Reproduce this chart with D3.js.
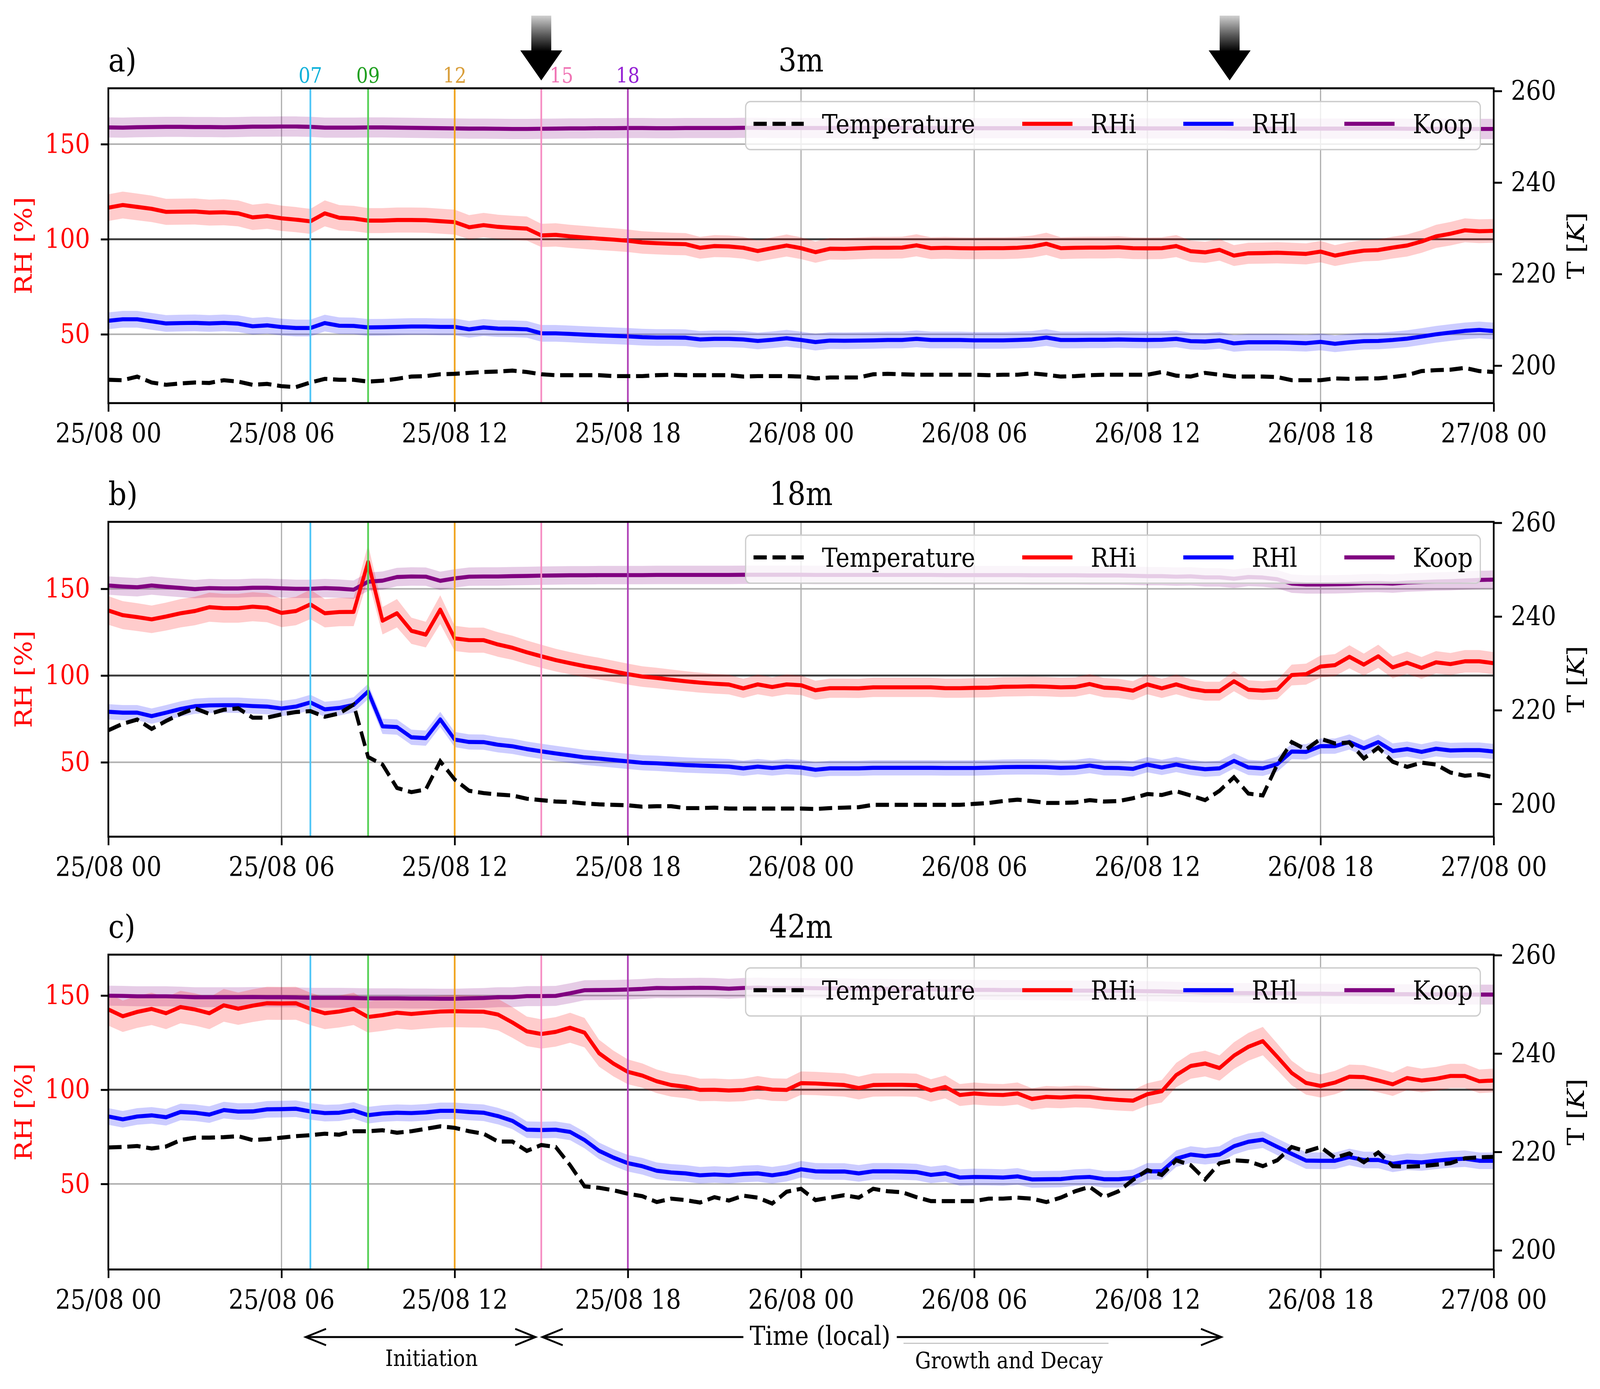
<!DOCTYPE html>
<html>
<head>
<meta charset="utf-8">
<script src="https://cdn.jsdelivr.net/npm/d3@7"></script>
<style>
html, body { margin: 0; padding: 0; background: #ffffff; overflow: hidden; }
svg { display: block; width: 100vw; height: 100vh; }
</style>
</head>
<body>
<svg></svg>
<script>
const width = 4652;
const height = 3556;

const fontFamily = "'DejaVu Serif', serif";

// half-hourly samples from 25/08 00 to 27/08 00
const startTime = Date.UTC(2021, 7, 25, 0, 0);
const sampleCount = 97;
const stepMinutes = 30;

// ---- 3 m ----
const rhi3m = [
    116.6, 118.0, 117.0, 116.0, 114.4, 114.5, 114.6, 114.0, 114.2, 113.6, 111.5, 112.2,
    111.0, 110.3, 109.4, 113.6, 111.3, 110.9, 109.8, 109.8, 110.1, 110.1, 110.0, 109.5,
    109.0, 106.3, 107.4, 106.5, 106.0, 105.6, 102.0, 102.3, 101.5, 100.9, 100.3, 99.8,
    99.2, 98.3, 97.9, 97.6, 97.4, 95.5, 96.4, 96.2, 95.5, 93.8, 95.3, 96.7,
    95.3, 93.2, 95.0, 94.9, 95.2, 95.5, 95.5, 95.6, 96.8, 95.3, 95.5, 95.3,
    95.2, 95.3, 95.3, 95.5, 96.1, 97.6, 95.3, 95.5, 95.6, 95.6, 95.8, 95.3,
    95.2, 95.3, 96.4, 93.7, 93.1, 94.4, 91.4, 92.6, 92.7, 92.9, 92.6, 92.3,
    93.5, 91.4, 92.9, 94.0, 94.3, 95.6, 96.7, 98.8, 101.5, 102.9, 104.7, 104.2,
    104.4
];
const rhl3m = [
    57.1, 57.9, 57.9, 56.8, 55.7, 55.9, 56.0, 55.7, 56.0, 55.6, 54.2, 54.7,
    53.8, 53.3, 53.3, 55.9, 54.5, 54.4, 53.6, 53.7, 53.9, 54.1, 54.1, 53.9,
    53.9, 52.6, 53.6, 53.0, 52.9, 52.6, 50.5, 50.5, 50.2, 49.8, 49.5, 49.2,
    48.9, 48.5, 48.3, 48.3, 48.2, 47.3, 47.6, 47.6, 47.3, 46.5, 47.1, 47.9,
    47.0, 45.9, 46.7, 46.6, 46.7, 46.8, 47.0, 47.0, 47.6, 47.0, 47.0, 47.0,
    46.8, 46.8, 46.8, 47.0, 47.3, 48.3, 47.0, 47.0, 47.1, 47.1, 47.3, 47.1,
    47.0, 47.1, 47.6, 46.4, 46.2, 46.8, 45.2, 45.8, 45.8, 45.8, 45.6, 45.3,
    46.0, 45.0, 45.8, 46.4, 46.5, 47.0, 47.7, 48.8, 50.0, 50.9, 51.8, 52.3,
    51.7
];
const koop3m = [
    158.8, 158.7, 158.9, 159.0, 159.1, 159.1, 159.0, 159.0, 158.9, 159.0, 159.2, 159.2,
    159.3, 159.3, 159.1, 158.7, 158.7, 158.7, 158.8, 158.8, 158.7, 158.6, 158.5, 158.4,
    158.3, 158.2, 158.2, 158.1, 158.0, 158.0, 158.1, 158.2, 158.3, 158.3, 158.4, 158.4,
    158.5, 158.5, 158.4, 158.4, 158.5, 158.5, 158.5, 158.5, 158.6, 158.6, 158.5, 158.5,
    158.5, 158.5, 158.5, 158.5, 158.5, 158.5, 158.5, 158.5, 158.5, 158.5, 158.5, 158.5,
    158.4, 158.4, 158.4, 158.4, 158.4, 158.4, 158.4, 158.4, 158.4, 158.4, 158.4, 158.4,
    158.3, 158.3, 158.3, 158.3, 158.3, 158.3, 158.2, 158.2, 158.2, 158.2, 158.2, 158.2,
    158.2, 158.2, 158.2, 158.2, 158.2, 158.2, 158.1, 158.1, 158.1, 158.1, 158.0, 158.0,
    158.0
];
const temp3m = [
    196.9, 196.8, 197.6, 196.3, 195.8, 196.1, 196.3, 196.2, 196.8, 196.5, 195.8, 196.0,
    195.5, 195.3, 196.3, 197.1, 196.9, 196.9, 196.5, 196.7, 197.1, 197.6, 197.7, 198.1,
    198.2, 198.4, 198.6, 198.7, 198.9, 198.6, 198.1, 197.9, 197.9, 197.9, 197.9, 197.7,
    197.7, 197.7, 197.9, 198.0, 197.9, 197.9, 197.9, 197.9, 197.6, 197.7, 197.7, 197.7,
    197.6, 197.2, 197.4, 197.4, 197.4, 198.1, 198.2, 198.1, 198.0, 198.0, 198.0, 198.0,
    198.0, 197.9, 198.0, 198.0, 198.3, 198.0, 197.6, 197.7, 197.9, 198.0, 198.0, 198.0,
    198.0, 198.6, 197.8, 197.6, 198.4, 198.0, 197.6, 197.6, 197.6, 197.5, 196.8, 196.8,
    196.8, 197.2, 197.1, 197.2, 197.2, 197.5, 197.9, 198.8, 199.0, 199.1, 199.5, 198.8,
    198.6
];

// ---- 18 m ----
const rhi18m = [
    137.5, 134.8, 133.7, 132.4, 134.0, 135.9, 137.2, 139.4, 138.8, 138.8, 139.7, 139.1,
    136.1, 137.2, 141.0, 135.9, 136.6, 136.7, 165.5, 131.6, 135.9, 125.8, 123.6, 138.0,
    121.4, 120.4, 120.4, 117.9, 116.0, 113.4, 111.1, 108.9, 107.1, 105.4, 104.0, 102.4,
    100.8, 99.4, 98.6, 97.6, 96.7, 95.9, 95.3, 94.8, 92.6, 94.9, 93.4, 94.9,
    94.4, 91.5, 92.7, 92.7, 92.6, 93.2, 93.2, 93.2, 93.2, 93.2, 92.7, 92.7,
    92.9, 93.0, 93.5, 93.6, 93.8, 93.6, 93.2, 93.4, 95.1, 93.0, 92.6, 91.3,
    94.9, 92.6, 94.9, 92.4, 91.0, 91.0, 96.7, 91.8, 91.3, 91.9, 100.3, 100.8,
    105.2, 106.0, 110.8, 106.3, 111.1, 104.7, 107.4, 104.4, 107.6, 106.6, 108.2, 108.2,
    107.1
];
const rhl18m = [
    79.1, 78.6, 78.6, 76.6, 78.6, 80.7, 82.3, 82.8, 82.9, 82.9, 82.4, 82.1,
    81.0, 82.1, 84.5, 80.5, 81.3, 83.1, 90.8, 70.7, 70.3, 64.4, 63.9, 74.7,
    63.1, 61.7, 61.6, 60.1, 59.2, 57.6, 56.3, 55.1, 54.0, 52.8, 52.1, 51.3,
    50.5, 49.7, 49.4, 48.9, 48.4, 48.1, 47.8, 47.5, 46.5, 47.5, 46.7, 47.5,
    47.0, 45.7, 46.5, 46.5, 46.5, 46.8, 46.8, 46.8, 46.8, 46.8, 46.7, 46.7,
    46.7, 46.9, 47.2, 47.3, 47.3, 47.2, 46.8, 47.0, 48.1, 46.8, 46.7, 46.2,
    48.6, 47.0, 48.7, 47.0, 46.0, 46.5, 50.8, 47.0, 46.5, 48.9, 56.2, 56.0,
    59.3, 59.3, 61.7, 58.1, 61.6, 56.5, 57.6, 56.0, 57.8, 56.8, 57.0, 57.0,
    56.2
];
const koop18m = [
    151.9, 151.3, 150.9, 151.9, 151.1, 150.5, 149.8, 150.4, 150.2, 150.2, 150.6, 150.6,
    150.3, 150.0, 150.0, 150.4, 150.1, 149.5, 154.1, 154.7, 156.8, 157.1, 157.0, 154.6,
    156.0, 157.0, 157.1, 157.1, 157.3, 157.4, 157.6, 157.7, 157.8, 157.8, 157.9, 157.9,
    157.9, 157.9, 158.0, 158.0, 158.0, 158.0, 158.0, 158.0, 158.1, 158.1, 158.1, 158.1,
    158.1, 158.0, 158.0, 158.0, 158.0, 158.0, 158.0, 158.0, 158.0, 158.0, 157.9, 157.9,
    157.9, 157.9, 157.9, 157.9, 157.8, 157.8, 157.8, 157.8, 157.7, 157.7, 157.7, 157.5,
    157.3, 157.3, 157.0, 157.2, 156.6, 156.6, 155.8, 156.8, 156.5, 155.5, 153.0, 152.5,
    152.5, 152.6, 152.8, 153.2, 153.3, 153.0, 153.6, 153.9, 154.2, 154.4, 154.8, 155.1,
    155.3
];
const temp18m = [
    215.7, 217.1, 218.0, 216.0, 217.7, 219.2, 220.4, 219.2, 220.1, 220.4, 218.4, 218.4,
    219.1, 219.6, 219.8, 218.6, 219.3, 221.2, 210.0, 208.4, 203.4, 202.5, 203.1, 209.1,
    205.2, 202.8, 202.3, 202.0, 201.8, 201.1, 200.8, 200.5, 200.4, 200.1, 199.9, 199.8,
    199.7, 199.4, 199.5, 199.5, 199.1, 199.1, 199.2, 199.0, 199.0, 199.0, 199.0, 199.0,
    199.0, 198.9, 199.1, 199.2, 199.3, 199.8, 199.8, 199.8, 199.8, 199.8, 199.8, 199.8,
    200.0, 200.2, 200.6, 200.9, 200.6, 200.2, 200.2, 200.3, 200.8, 200.5, 200.6, 201.2,
    202.1, 201.9, 202.7, 201.8, 200.8, 202.8, 205.7, 202.2, 201.8, 208.4, 213.2, 211.6,
    213.9, 212.9, 213.1, 209.7, 212.0, 209.0, 207.9, 208.8, 208.4, 206.7, 206.0, 206.3,
    205.7
];

// ---- 42 m ----
const rhi42m = [
    142.6, 139.0, 141.3, 142.9, 140.6, 143.9, 142.6, 140.6, 144.8, 143.0, 144.6, 145.9,
    145.8, 145.9, 142.9, 140.6, 141.5, 142.9, 138.6, 139.6, 140.9, 140.2, 140.9, 141.5,
    141.7, 141.5, 141.4, 139.9, 135.7, 131.0, 129.6, 130.7, 132.9, 130.3, 119.4, 113.9,
    109.5, 107.5, 104.5, 102.5, 101.6, 99.9, 100.0, 99.6, 99.9, 101.2, 100.1, 99.9,
    103.5, 103.3, 102.9, 102.5, 100.9, 102.5, 102.6, 102.6, 102.4, 99.6, 101.5, 97.2,
    98.0, 97.4, 97.2, 98.0, 95.1, 96.2, 95.9, 96.4, 96.2, 95.2, 94.6, 94.2,
    97.6, 99.2, 107.8, 112.6, 113.9, 111.5, 118.1, 122.8, 125.8, 117.5, 108.9, 103.6,
    102.0, 103.8, 106.9, 106.7, 104.9, 102.9, 106.2, 104.9, 105.8, 107.3, 107.3, 104.5,
    104.9
];
const rhl42m = [
    85.8, 84.3, 85.8, 86.4, 85.4, 88.2, 87.8, 86.8, 89.2, 88.4, 88.5, 89.6,
    89.7, 89.9, 88.5, 87.6, 87.8, 89.0, 86.5, 87.4, 87.8, 87.6, 88.0, 88.8,
    88.8, 88.2, 87.8, 86.0, 83.5, 78.8, 78.6, 78.8, 77.6, 73.3, 67.6, 64.0,
    61.0, 59.4, 57.0, 56.1, 55.6, 54.6, 55.0, 54.6, 55.3, 55.6, 54.6, 55.7,
    57.8, 56.7, 56.6, 56.6, 55.6, 56.7, 56.7, 56.6, 56.3, 54.8, 55.6, 53.4,
    53.7, 53.6, 53.4, 54.0, 52.4, 52.5, 52.6, 53.4, 53.7, 52.5, 52.5, 53.2,
    56.7, 56.7, 63.4, 65.6, 64.7, 65.6, 70.0, 72.4, 73.5, 69.7, 66.0, 62.4,
    62.3, 62.3, 64.3, 62.7, 62.7, 60.7, 61.8, 61.4, 62.3, 63.0, 63.4, 62.3,
    62.3
];
const koop42m = [
    149.9, 149.8, 149.6, 149.6, 149.6, 149.4, 149.1, 149.1, 149.1, 149.1, 149.2, 149.1,
    149.1, 149.0, 148.8, 148.8, 148.8, 148.7, 148.5, 148.5, 148.5, 148.4, 148.4, 148.3,
    148.3, 148.5, 148.7, 149.1, 149.1, 149.7, 149.7, 149.8, 151.2, 152.8, 152.9, 153.0,
    153.2, 153.5, 154.0, 153.9, 154.0, 154.1, 154.0, 153.6, 154.0, 154.2, 154.0, 154.0,
    154.0, 153.9, 153.8, 153.8, 153.6, 153.6, 153.5, 153.4, 153.3, 153.3, 153.2, 153.1,
    153.0, 153.0, 152.9, 152.9, 152.8, 152.8, 152.7, 152.6, 152.6, 152.5, 152.5, 152.4,
    152.3, 152.2, 152.0, 151.8, 151.5, 151.5, 151.3, 151.3, 151.2, 151.2, 151.1, 151.0,
    151.0, 150.9, 150.9, 150.8, 150.8, 150.7, 150.7, 150.6, 150.6, 150.6, 150.5, 150.5,
    150.5
];
const temp42m = [
    220.9, 221.0, 221.2, 220.7, 221.1, 222.4, 222.9, 222.9, 223.0, 223.2, 222.4, 222.6,
    222.9, 223.2, 223.4, 223.7, 223.5, 224.2, 224.2, 224.4, 223.9, 224.2, 224.7, 225.2,
    224.9, 224.2, 223.7, 222.1, 222.1, 220.2, 221.4, 221.0, 217.3, 213.0, 212.7, 212.2,
    211.5, 211.0, 209.8, 210.5, 210.2, 209.7, 210.8, 210.1, 211.1, 210.7, 209.5, 211.9,
    212.5, 210.2, 210.7, 211.2, 210.7, 212.5, 212.0, 211.8, 210.8, 210.0, 210.0, 210.0,
    210.0, 210.5, 210.5, 210.7, 210.5, 209.8, 210.7, 212.0, 212.9, 210.8, 212.0, 214.3,
    216.3, 215.3, 218.3, 217.3, 214.4, 217.7, 218.3, 218.1, 217.1, 218.3, 221.0, 220.1,
    221.0, 218.8, 219.7, 217.9, 219.9, 217.1, 217.0, 217.1, 217.4, 217.7, 218.7, 218.9,
    219.0
];

// uncertainty shading
const rhiRelErr = 0.06;
const rhlErr = 4.4;
const koopErr = 5.3;

// marked hours on 25/08
const markerHours = [7, 9, 12, 15, 18];
const markerLabels = ["07", "09", "12", "15", "18"];
const markerLabelHours = [7, 9, 12, 15.7, 18];
const markerLineColors = ["#4ec5f7", "#52cf52", "#f0a41f", "#f68fc4", "#b043b8"];
const markerTextColors = ["#0fb1da", "#1f9f1f", "#d99e3a", "#f075b5", "#9420d4"];

// big arrows above panel a (hours since 25/08 00)
const topArrowHours = [15, 38.85];

// phase annotations below panel c
const phaseNames = ["Initiation", "Growth and Decay"];
const phaseSpans = [[6.84, 14.8], [15.04, 38.56]];
const phaseLabelHours = [11.2, 31.2];

const legendNames = ["Temperature", "RHi", "RHl", "Koop"];

const times = d3.range(sampleCount).map(i => new Date(startTime + i * stepMinutes * 60000));
const hourToDate = h => new Date(startTime + h * 3600000);

const panels = [
    { tag: "a)", title: "3m", top: 226, rhi: rhi3m, rhl: rhl3m, koop: koop3m, temp: temp3m,
      rhDomain: [13.8, 179.4], tDomain: [191.8, 260.6] },
    { tag: "b)", title: "18m", top: 1336, rhi: rhi18m, rhl: rhl18m, koop: koop18m, temp: temp18m,
      rhDomain: [7.1, 188.6], tDomain: [193.0, 260.2] },
    { tag: "c)", title: "42m", top: 2444, rhi: rhi42m, rhl: rhl42m, koop: koop42m, temp: temp42m,
      rhDomain: [4.6, 171.7], tDomain: [196.1, 260.1] }
];

const plotLeft = 315;
const plotRight = 4343;
const panelHeight = 806;

const lineWidth = 10.4;
const tickFont = 69;
const legendFont = 68;
const titleFont = 83;

const svg = d3.select("svg")
    .attr("viewBox", [0, 0, width, height])
    .attr("preserveAspectRatio", "none")
    .style("font-family", fontFamily);

svg.append("rect")
    .attr("width", width)
    .attr("height", height)
    .attr("fill", "#ffffff");

const defs = svg.append("defs");

const arrowGradient = defs.append("linearGradient")
    .attr("id", "arrow-gradient")
    .attr("x1", 0).attr("y1", 0)
    .attr("x2", 0).attr("y2", 1);
arrowGradient.append("stop").attr("offset", "0%").attr("stop-color", "#d0d0d0");
arrowGradient.append("stop").attr("offset", "30%").attr("stop-color", "#5a5a5a");
arrowGradient.append("stop").attr("offset", "55%").attr("stop-color", "#000000");
arrowGradient.append("stop").attr("offset", "100%").attr("stop-color", "#000000");

const x = d3.scaleUtc()
    .domain([times[0], times[times.length - 1]])
    .range([plotLeft, plotRight]);

const xTicks = x.ticks(d3.utcHour.every(6));

panels.forEach((p, i) => {
    const top = p.top;
    const bottom = top + panelHeight;
    const y = d3.scaleLinear().domain(p.rhDomain).range([bottom, top]);
    const yT = d3.scaleLinear().domain(p.tDomain).range([bottom, top]);

    const clipId = `clip-${i}`;
    defs.append("clipPath")
        .attr("id", clipId)
        .append("rect")
        .attr("x", plotLeft)
        .attr("y", top)
        .attr("width", plotRight - plotLeft)
        .attr("height", panelHeight);

    const g = svg.append("g");

    // grid
    g.append("g")
        .selectAll("line")
        .data(xTicks)
        .join("line")
        .attr("x1", d => x(d)).attr("x2", d => x(d))
        .attr("y1", top).attr("y2", bottom)
        .attr("stroke", "#b0b0b0")
        .attr("stroke-width", 3.6);
    g.append("g")
        .selectAll("line")
        .data([50, 150])
        .join("line")
        .attr("x1", plotLeft).attr("x2", plotRight)
        .attr("y1", d => y(d)).attr("y2", d => y(d))
        .attr("stroke", "#b0b0b0")
        .attr("stroke-width", 4);
    g.append("line")
        .attr("x1", plotLeft).attr("x2", plotRight)
        .attr("y1", y(100)).attr("y2", y(100))
        .attr("stroke", "#404040")
        .attr("stroke-width", 5);

    const plot = g.append("g").attr("clip-path", `url(#${clipId})`);

    const series = [
        { values: p.koop, color: "#800080", err: v => koopErr },
        { values: p.rhl, color: "#0000ff", err: v => rhlErr },
        { values: p.rhi, color: "#ff0000", err: v => v * rhiRelErr }
    ];

    series.forEach(s => {
        const area = d3.area()
            .x((d, k) => x(times[k]))
            .y0(d => y(d - s.err(d)))
            .y1(d => y(d + s.err(d)));
        plot.append("path")
            .attr("d", area(s.values))
            .attr("fill", s.color)
            .attr("fill-opacity", 0.2)
            .attr("stroke", "none");
    });

    series.forEach(s => {
        const line = d3.line()
            .x((d, k) => x(times[k]))
            .y(d => y(d));
        plot.append("path")
            .attr("d", line(s.values))
            .attr("fill", "none")
            .attr("stroke", s.color)
            .attr("stroke-width", lineWidth)
            .attr("stroke-linejoin", "round");
    });

    // marked hours
    plot.append("g")
        .selectAll("line")
        .data(markerHours)
        .join("line")
        .attr("x1", d => x(hourToDate(d))).attr("x2", d => x(hourToDate(d)))
        .attr("y1", top).attr("y2", bottom)
        .attr("stroke", (d, k) => markerLineColors[k])
        .attr("stroke-width", 5);

    // temperature on twin axis
    const tempLine = d3.line()
        .x((d, k) => x(times[k]))
        .y(d => yT(d));
    plot.append("path")
        .attr("d", tempLine(p.temp))
        .attr("fill", "none")
        .attr("stroke", "#000000")
        .attr("stroke-width", lineWidth)
        .attr("stroke-dasharray", "38.5,16.7");

    // legend
    const legend = g.append("g");
    const entries = legend.append("g");
    let cursor = 23;
    legendNames.forEach((name, k) => {
        const handle = entries.append("line")
            .attr("x1", cursor).attr("x2", cursor + 146)
            .attr("y1", 57).attr("y2", 57)
            .attr("stroke-width", lineWidth);
        if (k === 0) {
            handle.attr("stroke", "#000000").attr("stroke-dasharray", "38.5,16.7");
        } else {
            handle.attr("stroke", ["#ff0000", "#0000ff", "#800080"][k - 1]);
        }
        const label = entries.append("text")
            .attr("x", cursor + 199)
            .attr("y", 81)
            .attr("font-size", legendFont)
            .attr("fill", "#000000")
            .text(name);
        cursor += 199 + label.node().getComputedTextLength() + 137;
    });
    const legendWidth = cursor - 137 + 22;
    legend.insert("rect", ":first-child")
        .attr("x", 0).attr("y", 0)
        .attr("width", legendWidth)
        .attr("height", 123)
        .attr("rx", 14)
        .attr("fill", "#ffffff")
        .attr("fill-opacity", 0.8)
        .attr("stroke", "#cccccc")
        .attr("stroke-width", 3.5);
    legend.attr("transform", `translate(${plotRight - 39 - legendWidth}, ${top + 34})`);

    // frame
    g.append("rect")
        .attr("x", plotLeft).attr("y", top)
        .attr("width", plotRight - plotLeft)
        .attr("height", panelHeight)
        .attr("fill", "none")
        .attr("stroke", "#000000")
        .attr("stroke-width", 5);

    // axes
    const xAxis = g.append("g")
        .attr("transform", `translate(0, ${bottom})`)
        .call(d3.axisBottom(x)
            .ticks(d3.utcHour.every(6))
            .tickFormat(d3.utcFormat("%d/%m %H"))
            .tickSize(22)
            .tickPadding(30)
            .tickSizeOuter(0));
    const leftAxis = g.append("g")
        .attr("transform", `translate(${plotLeft}, 0)`)
        .call(d3.axisLeft(y)
            .tickValues([50, 100, 150])
            .tickSize(22)
            .tickPadding(31)
            .tickSizeOuter(0));
    const rightAxis = g.append("g")
        .attr("transform", `translate(${plotRight}, 0)`)
        .call(d3.axisRight(yT)
            .tickValues([200, 220, 240, 260])
            .tickSize(24)
            .tickPadding(26)
            .tickSizeOuter(0));
    [xAxis, leftAxis, rightAxis].forEach(a => {
        a.select(".domain").remove();
        a.selectAll(".tick line").attr("stroke", "#000000").attr("stroke-width", 5);
        a.selectAll(".tick text")
            .attr("font-family", fontFamily)
            .attr("font-size", tickFont)
            .attr("fill", "#000000");
    });
    leftAxis.selectAll(".tick text").attr("fill", "#ff0000");

    // axis labels
    g.append("text")
        .attr("transform", `translate(69, ${(top + bottom) / 2}) rotate(-90)`)
        .attr("text-anchor", "middle")
        .attr("dominant-baseline", "central")
        .attr("font-size", legendFont)
        .attr("fill", "#ff0000")
        .text("RH [%]");
    const tLabel = g.append("text")
        .attr("transform", `translate(4582, ${(top + bottom) / 2}) rotate(-90)`)
        .attr("text-anchor", "middle")
        .attr("dominant-baseline", "central")
        .attr("font-size", legendFont)
        .attr("fill", "#000000");
    tLabel.append("tspan").text("T [");
    tLabel.append("tspan").attr("font-style", "italic").text("K");
    tLabel.append("tspan").text("]");

    // titles
    g.append("text")
        .attr("x", plotLeft)
        .attr("y", top - 43)
        .attr("font-size", titleFont)
        .text(p.tag);
    g.append("text")
        .attr("x", (plotLeft + plotRight) / 2)
        .attr("y", top - 43)
        .attr("text-anchor", "middle")
        .attr("font-size", titleFont)
        .text(p.title);

    if (i === 0) {
        g.append("g")
            .selectAll("text")
            .data(markerLabels)
            .join("text")
            .attr("x", (d, k) => x(hourToDate(markerLabelHours[k])))
            .attr("y", top - 14)
            .attr("text-anchor", "middle")
            .attr("font-size", 54)
            .attr("fill", (d, k) => markerTextColors[k])
            .text(d => d);
    }
});

// big arrows over panel a
svg.append("g")
    .selectAll("path")
    .data(topArrowHours)
    .join("path")
    .attr("d", d => {
        const cx = x(hourToDate(d));
        return `M ${cx - 29} 40 L ${cx + 29} 40 L ${cx + 29} 129 L ${cx + 61} 129
            L ${cx} 206 L ${cx - 61} 129 L ${cx - 29} 129 Z`;
    })
    .attr("fill", "url(#arrow-gradient)")
    .attr("stroke", "none");

// phase arrows below panel c
const phaseY = 3423;
const phaseGroup = svg.append("g");
phaseSpans.forEach(span => {
    const x1 = x(hourToDate(span[0]));
    const x2 = x(hourToDate(span[1]));
    phaseGroup.append("line")
        .attr("x1", x1 + 3).attr("x2", x2 - 3)
        .attr("y1", phaseY).attr("y2", phaseY)
        .attr("stroke", "#000000")
        .attr("stroke-width", 5);
    phaseGroup.append("path")
        .attr("d", `M ${x1 + 59} ${phaseY - 21} L ${x1} ${phaseY} L ${x1 + 59} ${phaseY + 21}`)
        .attr("fill", "none")
        .attr("stroke", "#000000")
        .attr("stroke-width", 5);
    phaseGroup.append("path")
        .attr("d", `M ${x2 - 59} ${phaseY - 21} L ${x2} ${phaseY} L ${x2 - 59} ${phaseY + 21}`)
        .attr("fill", "none")
        .attr("stroke", "#000000")
        .attr("stroke-width", 5);
});
phaseGroup.append("line")
    .attr("x1", 2627).attr("x2", 3223)
    .attr("y1", 3439).attr("y2", 3439)
    .attr("stroke", "#bbbbbb")
    .attr("stroke-width", 2.5);
phaseGroup.selectAll("text.phase")
    .data(phaseNames)
    .join("text")
    .classed("phase", true)
    .attr("x", (d, k) => x(hourToDate(phaseLabelHours[k])))
    .attr("y", (d, k) => k === 0 ? 3497 : 3503)
    .attr("text-anchor", "middle")
    .attr("font-size", 58)
    .text(d => d);

// x label sits on a white box over the long arrow
const timeLabelX = x(hourToDate(24.66));
phaseGroup.append("rect")
    .attr("x", timeLabelX - 223)
    .attr("y", 3395)
    .attr("width", 446)
    .attr("height", 60)
    .attr("fill", "#ffffff");
phaseGroup.append("text")
    .attr("x", timeLabelX)
    .attr("y", 3443)
    .attr("text-anchor", "middle")
    .attr("font-size", 68)
    .text("Time (local)");
</script>
</body>
</html>
